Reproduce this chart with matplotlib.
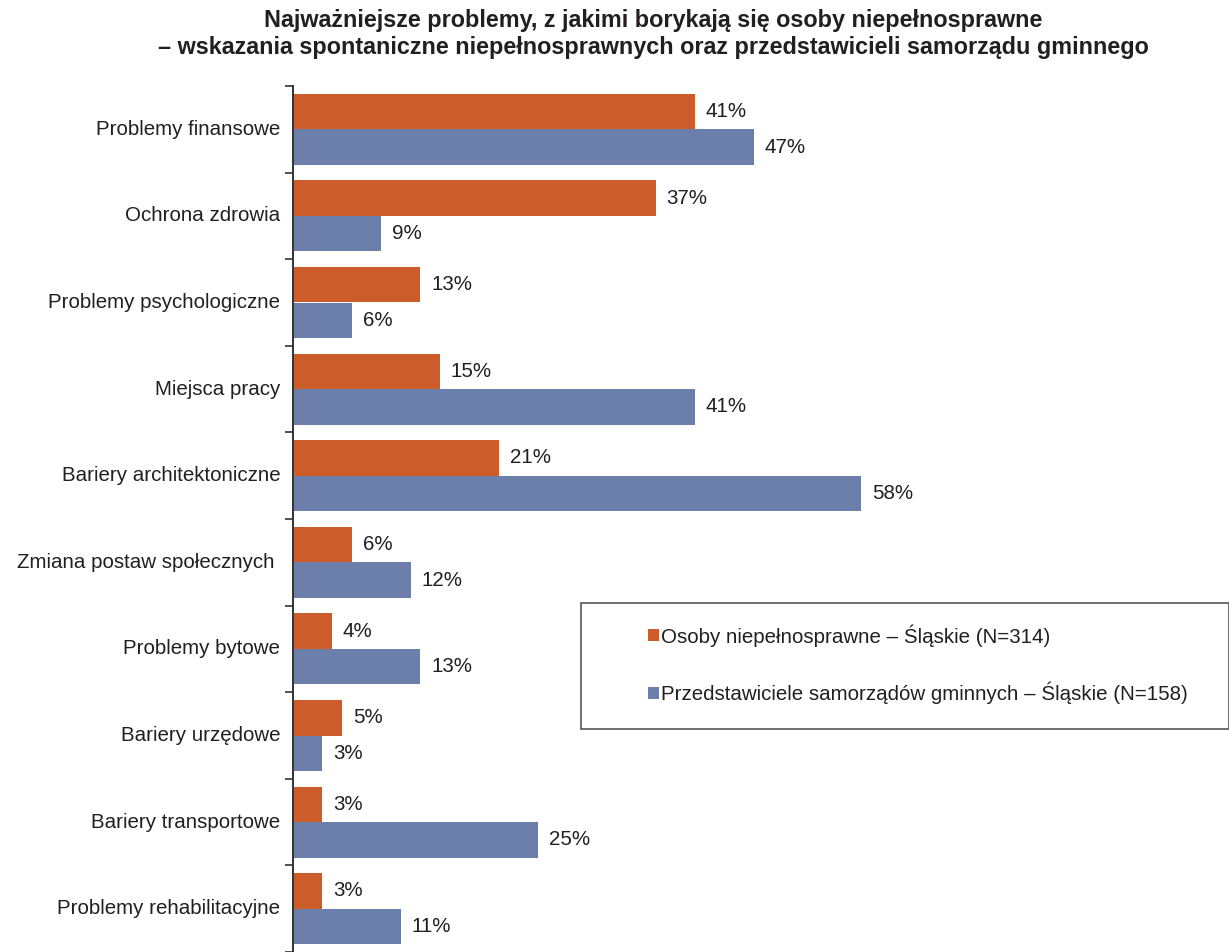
import numpy as np
import matplotlib.pyplot as plt
from matplotlib.patches import Rectangle

plt.rcParams['font.family'] = ['Liberation Sans', 'DejaVu Sans']

categories = ['Problemy finansowe', 'Ochrona zdrowia', 'Problemy psychologiczne',
              'Miejsca pracy', 'Bariery architektoniczne', 'Zmiana postaw społecznych ',
              'Problemy bytowe', 'Bariery urzędowe', 'Bariery transportowe',
              'Problemy rehabilitacyjne']
osoby = [41, 37, 13, 15, 21, 6, 4, 5, 3, 3]
samorzady = [47, 9, 6, 41, 58, 12, 13, 3, 25, 11]
series_names = ['Osoby niepełnosprawne – Śląskie (N=314)',
                'Przedstawiciele samorządów gminnych – Śląskie (N=158)']
title = ('Najważniejsze problemy, z jakimi borykają się osoby niepełnosprawne\n'
         '– wskazania spontaniczne niepełnosprawnych oraz przedstawicieli samorządu gminnego')

c_orange = '#CC5C2A'
c_blue = '#6C7EAA'
txt = '#231F20'
fs = 14.8

W, H = 1229, 952
fig = plt.figure(figsize=(W / 100, H / 100), dpi=100)
ax = fig.add_axes([293 / W, 0, (W - 293) / W, (H - 86) / H])

y = np.arange(len(categories))
bh = 0.41
ax.barh(y - bh / 2, osoby, height=bh, color=c_orange, label=series_names[0])
ax.barh(y + bh / 2, samorzady, height=bh, color=c_blue, label=series_names[1])

for i in range(len(categories)):
    ax.text(osoby[i] + 1.1, y[i] - bh / 2, f'{osoby[i]}%', va='center', ha='left',
            fontsize=fs, color=txt)
    ax.text(samorzady[i] + 1.1, y[i] + bh / 2, f'{samorzady[i]}%', va='center', ha='left',
            fontsize=fs, color=txt)
    ax.text(-1.3, y[i], categories[i], va='center', ha='right', fontsize=fs, color=txt)

ax.set_xlim(0, (W - 293) / 9.8)
ax.set_ylim(-0.5 + (H - 86) / 87.3, -0.5)
ax.set_yticks(np.arange(len(categories) + 1) - 0.5)
ax.set_yticklabels([])
ax.tick_params(axis='y', length=6, width=1.2, color='#333333', direction='out')
ax.set_xticks([])
for s in ['top', 'right', 'bottom']:
    ax.spines[s].set_visible(False)
ax.spines['left'].set_color('#333333')
ax.spines['left'].set_linewidth(1.4)

fig.text(653 / W, 1 - 34 / H, title, ha='center', va='center', fontsize=16.8,
         fontweight='bold', color=txt, linespacing=1.2)

# legend box
fig.patches.append(Rectangle((581 / W, 1 - 729 / H), (W - 581) / W, 126 / H,
                             transform=fig.transFigure, fill=False,
                             edgecolor='#555555', linewidth=1.2))
leg = fig.legend(loc='center left', bbox_to_anchor=(638 / W, 1 - 664 / H),
                 frameon=False, fontsize=fs, handlelength=0.5, handleheight=0.5,
                 handletextpad=0.12, labelspacing=1.7, borderpad=0)
for t in leg.get_texts():
    t.set_color(txt)

fig.savefig('out.png', dpi=100)
